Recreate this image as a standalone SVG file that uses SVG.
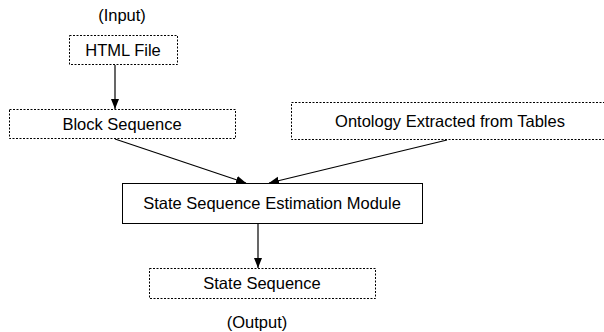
<svg xmlns="http://www.w3.org/2000/svg" width="604" height="332" viewBox="0 0 604 332">
<style>
.box{fill:#fff;stroke:#000;stroke-width:1}
.dash{stroke-dasharray:2 1.5}
.t{font-family:"Liberation Sans",Arial,sans-serif;font-size:16.5px;fill:#000;text-anchor:middle;dominant-baseline:central}
.c{stroke:#000;stroke-width:1.2;fill:none;marker-end:url(#ah)}
</style>
<defs>
<marker id="ah" viewBox="0 0 10 10" refX="10" refY="5" markerWidth="10" markerHeight="10" markerUnits="userSpaceOnUse" orient="auto">
<path d="M0,1 L10,5 L0,9 Z" fill="#000"/>
</marker>
</defs>
<text class="t" x="122" y="15">(Input)</text>
<text class="t" x="257" y="322">(Output)</text>
<g id="connectors">
<line class="c" x1="115" y1="65" x2="115" y2="109"/>
<line class="c" x1="115" y1="139" x2="246" y2="183"/>
<line class="c" x1="447" y1="140" x2="269" y2="183"/>
<line class="c" x1="258" y1="223" x2="258" y2="268"/>
</g>
<g id="html-file">
<rect class="box dash" x="69.5" y="35.5" width="108" height="29"/>
<text class="t" x="123" y="50">HTML File</text>
</g>
<g id="block-sequence">
<rect class="box dash" x="9.5" y="109.5" width="226" height="29"/>
<text class="t" x="122" y="124">Block Sequence</text>
</g>
<g id="ontology">
<rect class="box dash" x="291.5" y="102.5" width="320" height="37"/>
<text class="t" x="450" y="121">Ontology Extracted from Tables</text>
</g>
<g id="module">
<rect class="box" x="122.5" y="183.5" width="300" height="40"/>
<text class="t" x="272" y="203">State Sequence Estimation Module</text>
</g>
<g id="state-sequence">
<rect class="box dash" x="149.5" y="268.5" width="226" height="30"/>
<text class="t" x="262" y="283">State Sequence</text>
</g>
</svg>
